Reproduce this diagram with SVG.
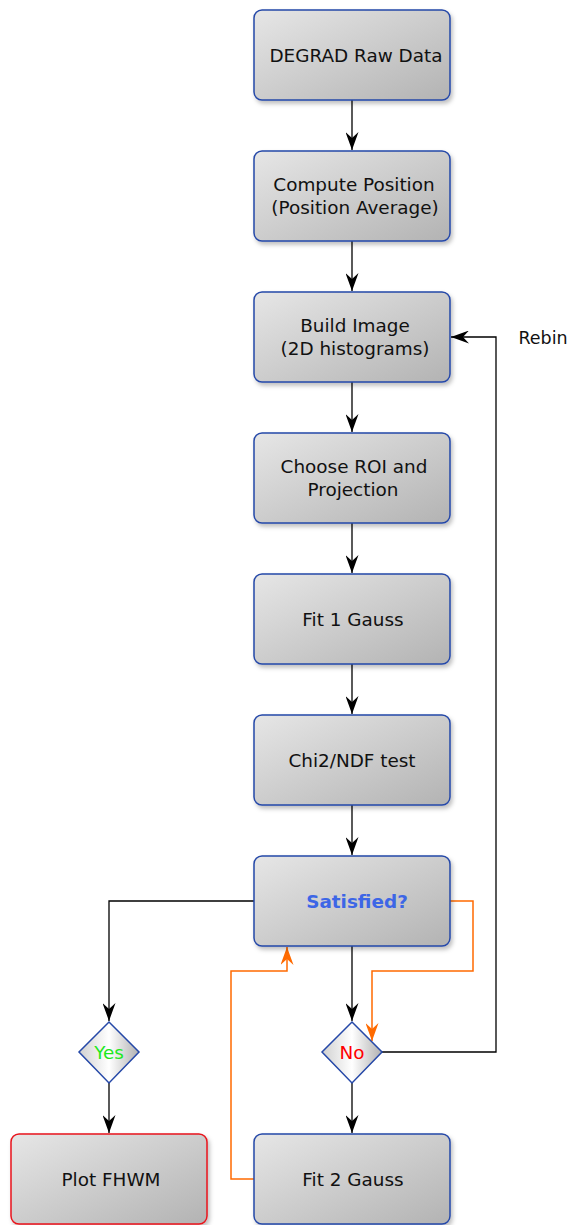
<svg xmlns="http://www.w3.org/2000/svg" width="572" height="1225" viewBox="0 0 572 1225">
<defs>
<linearGradient id="gBox" x1="0" y1="0" x2="1" y2="1">
<stop offset="0" stop-color="#e6e6e6"/>
<stop offset="1" stop-color="#b3b3b3"/>
</linearGradient>
<linearGradient id="gDia" x1="0" y1="0" x2="1" y2="0">
<stop offset="0" stop-color="#d0d0d0"/>
<stop offset="0.5" stop-color="#ffffff"/>
<stop offset="1" stop-color="#b0b0b0"/>
</linearGradient>
<filter id="sh" x="-10%" y="-10%" width="130%" height="130%">
<feDropShadow dx="2" dy="3" stdDeviation="2" flood-color="#000" flood-opacity="0.25"/>
</filter>
<marker id="aBlack" markerUnits="userSpaceOnUse" markerWidth="18" markerHeight="13" refX="18" refY="6.5" orient="auto" viewBox="0 0 18 13">
<path d="M0,0 L18,6.5 L0,13 L6,6.5 z" fill="#000"/>
</marker>
<marker id="aOrange" markerUnits="userSpaceOnUse" markerWidth="18" markerHeight="13" refX="18" refY="6.5" orient="auto" viewBox="0 0 18 13">
<path d="M0,0 L18,6.5 L0,13 L6,6.5 z" fill="#ff6a00"/>
</marker>
</defs>
<style>
.box{fill:url(#gBox);stroke:#2548a8;stroke-width:1.5;filter:url(#sh)}
.red{stroke:#e8141c}
.dia{fill:url(#gDia);stroke:#2548a8;stroke-width:1.5}
.t{font-family:"DejaVu Sans",sans-serif;font-size:18.4px;fill:#111;text-anchor:middle}
.c{fill:none;stroke:#000;stroke-width:1.3}
.o{fill:none;stroke:#ff6a00;stroke-width:1.5}
</style>
<g id="connectors">
<path class="c" d="M352,100 V150" marker-end="url(#aBlack)"/>
<path class="c" d="M352,241 V291" marker-end="url(#aBlack)"/>
<path class="c" d="M352,382 V432" marker-end="url(#aBlack)"/>
<path class="c" d="M352,523 V573" marker-end="url(#aBlack)"/>
<path class="c" d="M352,664 V714" marker-end="url(#aBlack)"/>
<path class="c" d="M352,805 V855" marker-end="url(#aBlack)"/>
<path class="c" d="M352,946 V1021" marker-end="url(#aBlack)"/>
<path class="c" d="M352,1083 V1133" marker-end="url(#aBlack)"/>
<path class="c" d="M254,901 H109 V1021" marker-end="url(#aBlack)"/>
<path class="c" d="M109,1083 V1133" marker-end="url(#aBlack)"/>
<path class="c" d="M382,1052 H496 V337 H451" marker-end="url(#aBlack)"/>
<path class="o" d="M450,901 H473 V971 H372 V1041" marker-end="url(#aOrange)"/>
<path class="o" d="M254,1179 H231 V971 H287 V947" marker-end="url(#aOrange)"/>
<text class="t" x="543" y="344" style="font-size:17.5px">Rebin</text>
</g>
<g id="degrad"><rect class="box" x="254" y="10" width="196" height="90" rx="8"/><text class="t" x="356" y="62">DEGRAD Raw Data</text></g>
<g id="compute"><rect class="box" x="254" y="151" width="196" height="90" rx="8"/><text class="t" x="354" y="191">Compute Position</text><text class="t" x="355" y="214">(Position Average)</text></g>
<g id="build"><rect class="box" x="254" y="292" width="196" height="90" rx="8"/><text class="t" x="355" y="332">Build Image</text><text class="t" x="355" y="355">(2D histograms)</text></g>
<g id="roi"><rect class="box" x="254" y="433" width="196" height="90" rx="8"/><text class="t" x="354" y="473">Choose ROI and</text><text class="t" x="353" y="496">Projection</text></g>
<g id="fit1"><rect class="box" x="254" y="574" width="196" height="90" rx="8"/><text class="t" x="353" y="626">Fit 1 Gauss</text></g>
<g id="chi2"><rect class="box" x="254" y="715" width="196" height="90" rx="8"/><text class="t" x="352" y="767">Chi2/NDF test</text></g>
<g id="satisfied"><rect class="box" x="254" y="856" width="196" height="90" rx="8"/><text class="t" x="357" y="908" style="font-weight:bold;fill:#3d66e6">Satisfied?</text></g>
<g id="yes"><path class="dia" d="M109,1022 L139,1052 L109,1083 L79,1052 Z"/><text class="t" x="109" y="1059" style="fill:#1ee81e">Yes</text></g>
<g id="no"><path class="dia" d="M352,1022 L382,1052 L352,1083 L322,1052 Z"/><text class="t" x="352" y="1059" style="fill:#ff0000">No</text></g>
<g id="plot"><rect class="box red" x="11" y="1134" width="196" height="90" rx="8"/><text class="t" x="111" y="1186">Plot FHWM</text></g>
<g id="fit2"><rect class="box" x="254" y="1134" width="196" height="90" rx="8"/><text class="t" x="353" y="1186">Fit 2 Gauss</text></g>
</svg>
